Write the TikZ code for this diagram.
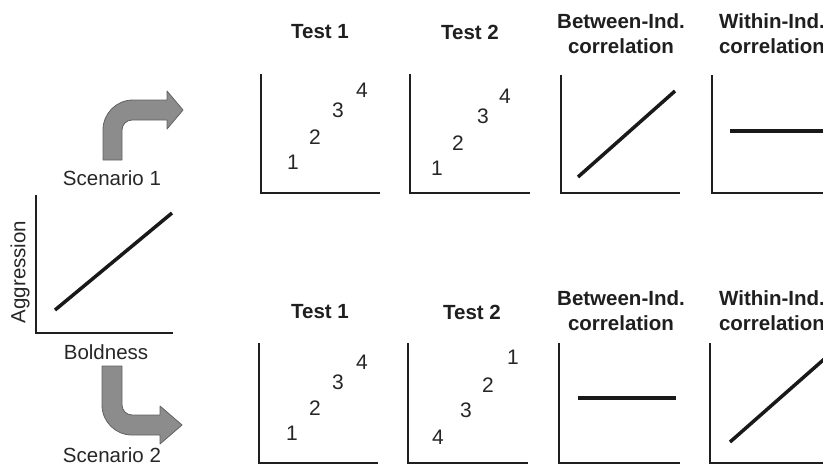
\documentclass[tikz,border=0pt]{standalone}
\usepackage{fontspec}
\setmainfont{Liberation Sans}
\begin{document}
\begin{tikzpicture}[x=1pt,y=-1pt,
 txt/.style={inner sep=0pt, text=black!85, font=\fontsize{20.5}{24}\selectfont},
 head/.style={inner sep=0pt, align=center, text=black!88, font=\fontsize{20.5}{25}\selectfont\bfseries},
 num/.style={inner sep=0pt, text=black!85, font=\fontsize{21}{24}\selectfont},
 axis/.style={line width=2pt, draw=black!88},
 trend/.style={line width=3.5pt, draw=black!90},
 turnarrow/.style={fill=black!45, draw=black!62, line width=0.8pt, line join=round}]
\useasboundingbox (0,0) rectangle (823,469);

% ---------- left summary plot ----------
\draw[axis] (36,195) -- (36,333) -- (173,333);
\draw[trend] (55,310) -- (172,213);
\node[txt, rotate=90] (aggr) at (20,272) {Aggression};
\node[txt] (bold) at (106,352) {Boldness};

% ---------- scenario arrows ----------
\draw[turnarrow] (103,160) -- (103,130) .. controls (103,113.4) and (116.4,100) .. (133,100)
  -- (167,100) -- (167,91) -- (183,110) -- (167,129) -- (167,120) -- (132,120)
  .. controls (126.5,120) and (122,124.5) .. (122,130) -- (122,160) -- cycle;
\node[txt] (sc1) at (112,178) {Scenario 1};

\draw[turnarrow] (102,366) -- (102,405) .. controls (102,421.6) and (115.4,435) .. (132,435)
  -- (160,435) -- (160,444) -- (182,425) -- (160,406) -- (160,415) -- (132,415)
  .. controls (126.5,415) and (122,410.5) .. (122,405) -- (122,366) -- cycle;
\node[txt] (sc2) at (112,455) {Scenario 2};

% ---------- headers ----------
\node[head] (t1a) at (320,32) {Test 1};
\node[head] (t2a) at (470,32) {Test 2};
\node[head] (bia) at (621,34) {Between-Ind.\\correlation};
\node[head] (wia) at (772,34) {Within-Ind.\\correlation};

\node[head] (t1b) at (320,312) {Test 1};
\node[head] (t2b) at (472,312) {Test 2};
\node[head] (bib) at (621,311) {Between-Ind.\\correlation};
\node[head] (wib) at (772,311) {Within-Ind.\\correlation};

% ---------- top row panels ----------
\draw[axis] (261,74) -- (261,193) -- (380,193);
\draw[axis] (410,74) -- (410,193) -- (530,193);
\draw[axis] (561,75) -- (561,193) -- (680,193);
\draw[axis] (712,75) -- (712,193) -- (830,193);

\node[num] (a1) at (293,162) {1};
\node[num] (a2) at (315,137) {2};
\node[num] (a3) at (338,110) {3};
\node[num] (a4) at (362,90) {4};

\node[num] (b1) at (437,168) {1};
\node[num] (b2) at (458,143) {2};
\node[num] (b3) at (483,116) {3};
\node[num] (b4) at (505,96) {4};

\draw[trend] (578,177) -- (675,91);
\draw[trend] (730,131) -- (830,131);

% ---------- bottom row panels ----------
\draw[axis] (259,343) -- (259,463) -- (378,463);
\draw[axis] (408,343) -- (408,463) -- (528,463);
\draw[axis] (559,343) -- (559,463) -- (680,463);
\draw[axis] (710,343) -- (710,463) -- (830,463);

\node[num] (c1) at (292,433) {1};
\node[num] (c2) at (315,408) {2};
\node[num] (c3) at (338,382) {3};
\node[num] (c4) at (362,362) {4};

\node[num] (d4) at (438,437) {4};
\node[num] (d3) at (466,410) {3};
\node[num] (d2) at (488,385) {2};
\node[num] (d1) at (513,357) {1};

\draw[trend] (578,398) -- (676,398);
\draw[trend] (730,442) -- (830,354);
\end{tikzpicture}
\end{document}
